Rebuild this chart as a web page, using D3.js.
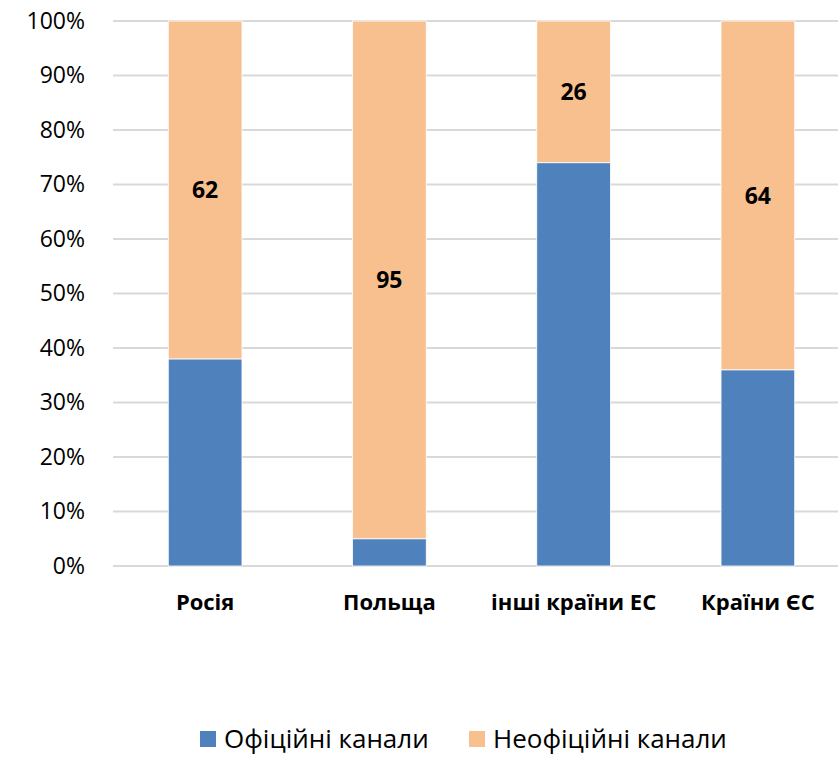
<!DOCTYPE html>
<html>
<head>
<meta charset="utf-8">
<script src="https://cdn.jsdelivr.net/npm/d3@7"></script>
<style>
  body { margin: 0; background: #fff; }
  svg { display: block; }
</style>
</head>
<body>
<svg width="838" height="758"></svg>
<script>
var categories = ["Росія", "Польща", "інші країни ЕС", "Країни ЄС"];
var official = [38, 5, 74, 36];
var unofficial = [62, 95, 26, 64];
var seriesNames = ["Офіційні канали", "Неофіційні канали"];
var yTicks = [0, 10, 20, 30, 40, 50, 60, 70, 80, 90, 100];

var colors = ["#4f81bd", "#f9c08f"];
var font = "'Open Sans', 'Noto Sans', sans-serif";

var svg = d3.select("svg");

var rows = categories.map(function(c, i){
	return {cat: c, official: official[i], unofficial: unofficial[i]};
});
var stack = d3.stack().keys(["official", "unofficial"]);
var layers = stack(rows);

var x = d3.scaleBand()
	.domain(categories)
	.range([113, 850])
	.paddingInner(0.6)
	.paddingOuter(0.3);

var y = d3.scaleLinear()
	.domain([0, 100])
	.range([566, 21]);

// grid lines
svg.append("g")
	.selectAll("line")
	.data(yTicks)
	.enter().append("line")
	.attr("x1", 113).attr("x2", 838)
	.attr("y1", function(d){ return y(d); })
	.attr("y2", function(d){ return y(d); })
	.attr("stroke", "#d9d9d9")
	.attr("stroke-width", 2);

// y axis labels
var yAxis = d3.axisLeft(y)
	.tickValues(yTicks)
	.tickFormat(function(d){ return d + "%"; })
	.tickSize(0)
	.tickPadding(0);
var ya = svg.append("g").attr("transform", "translate(85,0)").call(yAxis);
ya.select(".domain").remove();
ya.selectAll("text")
	.attr("font-family", font)
	.attr("font-size", 23)
	.attr("fill", "#000");

// bars
svg.append("g")
	.selectAll("g")
	.data(layers)
	.enter().append("g")
	.attr("fill", function(d, i){ return colors[i]; })
	.selectAll("rect")
	.data(function(d){ return d; })
	.enter().append("rect")
	.attr("x", function(d){ return x(d.data.cat); })
	.attr("width", x.bandwidth())
	.attr("y", function(d){ return y(d[1]); })
	.attr("height", function(d){ return y(d[0]) - y(d[1]); })
	.attr("stroke", "#fff")
	.attr("stroke-width", 0.8);

// data labels for unofficial segment
svg.append("g")
	.selectAll("text")
	.data(layers[1])
	.enter().append("text")
	.attr("x", function(d){ return x(d.data.cat) + x.bandwidth() / 2; })
	.attr("y", function(d){ return (y(d[0]) + y(d[1])) / 2; })
	.attr("dy", "0.36em")
	.attr("text-anchor", "middle")
	.attr("font-family", font)
	.attr("font-size", 23)
	.attr("font-weight", "bold")
	.text(function(d){ return d.data.unofficial; });

// x axis labels
var xAxis = d3.axisBottom(x).tickSize(0).tickPadding(0);
var xa = svg.append("g").attr("transform", "translate(0,594)").call(xAxis);
xa.select(".domain").remove();
xa.selectAll("text")
	.attr("font-family", font)
	.attr("font-size", 22)
	.attr("font-weight", "bold")
	.attr("fill", "#000");

// legend
var legendX = [200, 469];
var legend = svg.append("g")
	.selectAll("g")
	.data(seriesNames)
	.enter().append("g")
	.attr("transform", function(d, i){ return "translate(" + legendX[i] + ",731)"; });
legend.append("rect")
	.attr("width", 16).attr("height", 16)
	.attr("fill", function(d, i){ return colors[i]; });
legend.append("text")
	.attr("x", 24)
	.attr("y", 8)
	.attr("dy", "0.36em")
	.attr("font-family", font)
	.attr("font-size", 26)
	.attr("fill", "#000")
	.text(function(d){ return d; });
</script>
</body>
</html>
